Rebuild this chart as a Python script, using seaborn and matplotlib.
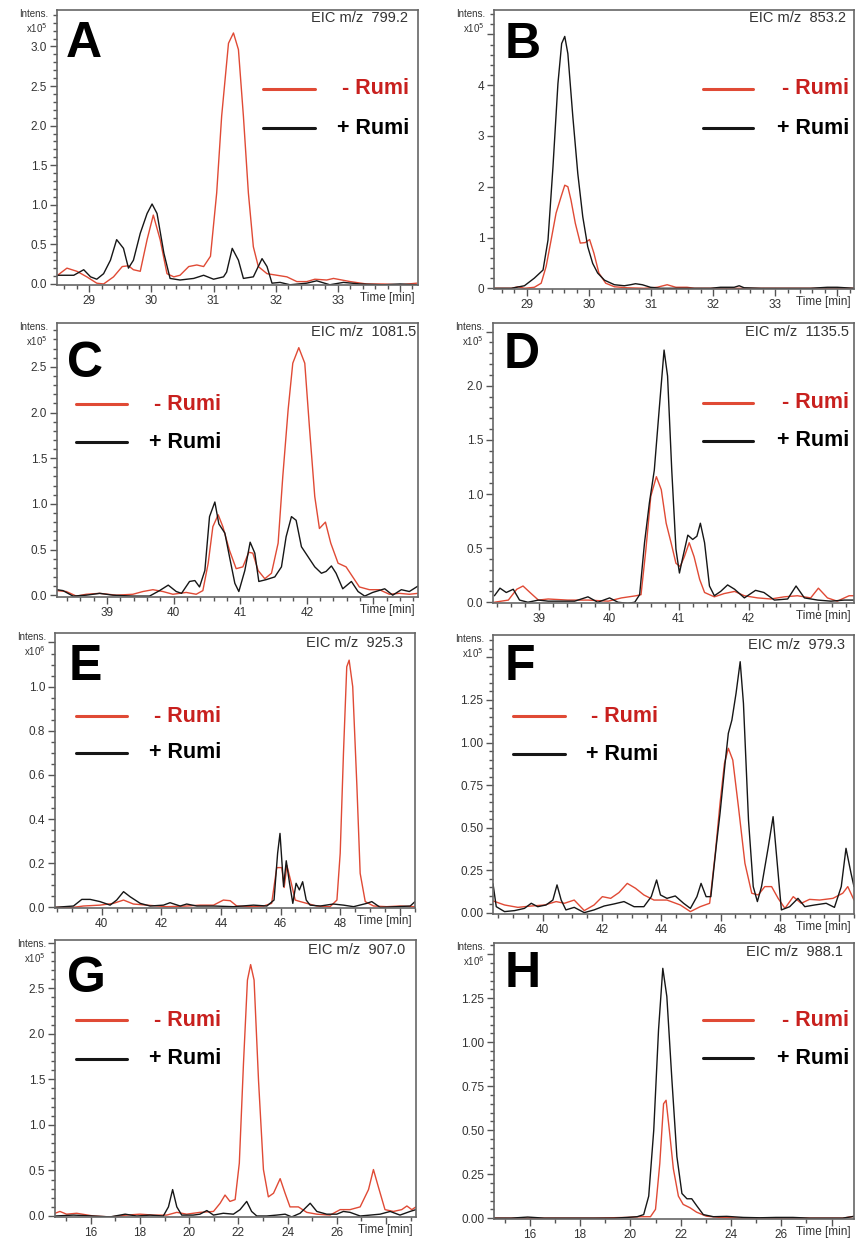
import matplotlib
matplotlib.use("Agg")
import matplotlib.pyplot as plt
from matplotlib.lines import Line2D
from matplotlib.ticker import MultipleLocator, FuncFormatter
import seaborn as sns
import pandas as pd

# ---- A : EIC m/z 799.2 (x10^5) ----
a_red_t = [28.49, 28.64, 28.80, 28.96, 29.12, 29.23, 29.39, 29.53, 29.63, 29.71, 29.82, 29.93, 30.03,
           30.14, 30.25, 30.36, 30.46, 30.60, 30.73, 30.84, 30.95, 31.05, 31.13, 31.24, 31.32, 31.40,
           31.48, 31.56, 31.64, 31.72, 31.86, 32.02, 32.18, 32.34, 32.50, 32.63, 32.82, 32.93, 33.20,
           33.46, 33.73, 34.00, 34.27]
a_red_i = [0.11, 0.20, 0.16, 0.09, 0.01, 0.00, 0.09, 0.22, 0.23, 0.18, 0.16, 0.56, 0.87,
           0.56, 0.13, 0.09, 0.11, 0.22, 0.24, 0.22, 0.35, 1.15, 2.12, 3.04, 3.17, 2.96,
           2.12, 1.15, 0.47, 0.22, 0.13, 0.11, 0.09, 0.03, 0.03, 0.06, 0.05, 0.07, 0.03,
           0.00, 0.00, -0.01, 0.01]
a_blk_t = [28.49, 28.75, 28.91, 29.02, 29.12, 29.23, 29.34, 29.44, 29.55, 29.63, 29.71, 29.82, 29.93,
           30.01, 30.09, 30.20, 30.30, 30.46, 30.68, 30.84, 31.00, 31.16, 31.21, 31.30, 31.40, 31.48,
           31.64, 31.78, 31.86, 31.94, 32.07, 32.23, 32.50, 32.66, 32.87, 33.09, 33.36, 33.73, 34.00,
           34.27]
a_blk_i = [0.11, 0.11, 0.18, 0.09, 0.06, 0.13, 0.30, 0.56, 0.45, 0.20, 0.30, 0.64, 0.89,
           1.01, 0.89, 0.39, 0.07, 0.05, 0.07, 0.11, 0.06, 0.09, 0.15, 0.45, 0.30, 0.07,
           0.09, 0.32, 0.22, 0.01, 0.02, -0.01, 0.01, 0.04, -0.01, 0.02, 0.00, -0.01, 0.00,
           -0.01]

# ---- B : EIC m/z 853.2 (x10^5) ----
b_red_t = [28.47, 28.75, 28.86, 28.96, 29.12, 29.23, 29.31, 29.39, 29.47, 29.55, 29.61, 29.66, 29.71,
           29.78, 29.86, 29.94, 30.01, 30.08, 30.16, 30.27, 30.41, 30.62, 30.89, 31.10, 31.26, 31.40,
           31.58, 31.70, 31.96, 32.23, 32.77, 33.30, 33.84, 34.27]
b_red_i = [0.00, 0.00, 0.03, 0.00, 0.02, 0.10, 0.43, 0.95, 1.48, 1.80, 2.03, 2.00, 1.74,
           1.28, 0.89, 0.90, 0.96, 0.69, 0.30, 0.10, 0.03, 0.01, 0.00, 0.02, 0.07, 0.02,
           0.02, 0.00, 0.00, 0.00, 0.00, 0.00, 0.00, 0.00]
b_blk_t = [28.47, 28.75, 28.96, 29.12, 29.26, 29.34, 29.42, 29.50, 29.56, 29.61, 29.66, 29.74, 29.82,
           29.90, 29.98, 30.06, 30.14, 30.25, 30.41, 30.57, 30.67, 30.75, 30.86, 30.99, 31.15, 31.42,
           31.70, 31.96, 32.12, 32.34, 32.42, 32.50, 32.77, 33.04, 33.30, 33.57, 33.84, 34.00, 34.27]
b_blk_i = [0.00, 0.00, 0.05, 0.20, 0.36, 0.95, 2.39, 4.03, 4.82, 4.96, 4.62, 3.38, 2.26,
           1.41, 0.82, 0.49, 0.30, 0.16, 0.07, 0.05, 0.07, 0.09, 0.07, 0.02, 0.00, 0.00,
           0.00, 0.00, 0.02, 0.02, 0.05, 0.01, 0.00, 0.00, 0.00, 0.00, 0.02, 0.02, 0.00]

# ---- C : EIC m/z 1081.5 (x10^5) ----
c_red_t = [38.25, 38.39, 38.54, 38.69, 38.89, 39.14, 39.39, 39.54, 39.69, 39.84, 39.99, 40.19, 40.34,
           40.44, 40.52, 40.59, 40.67, 40.74, 40.84, 40.94, 41.04, 41.13, 41.19, 41.27, 41.37, 41.47,
           41.57, 41.64, 41.72, 41.79, 41.88, 41.97, 42.04, 42.12, 42.19, 42.28, 42.36, 42.47, 42.59,
           42.69, 42.79, 42.94, 43.09, 43.24, 43.39, 43.54, 43.67]
c_red_i = [0.05, 0.04, -0.01, 0.01, 0.02, 0.00, 0.01, 0.04, 0.06, 0.04, 0.01, 0.03, 0.01,
           0.05, 0.35, 0.75, 0.88, 0.75, 0.49, 0.29, 0.31, 0.47, 0.46, 0.27, 0.18, 0.24,
           0.57, 1.30, 2.03, 2.54, 2.71, 2.54, 1.84, 1.08, 0.73, 0.80, 0.57, 0.35, 0.31,
           0.20, 0.09, 0.06, 0.06, 0.01, 0.02, 0.01, 0.02]
c_blk_t = [38.25, 38.34, 38.49, 38.69, 38.89, 39.09, 39.39, 39.64, 39.79, 39.92, 40.04, 40.12, 40.24,
           40.32, 40.39, 40.47, 40.54, 40.62, 40.68, 40.77, 40.84, 40.92, 40.98, 41.07, 41.15, 41.22,
           41.28, 41.39, 41.52, 41.62, 41.69, 41.77, 41.84, 41.92, 42.02, 42.12, 42.22, 42.29, 42.37,
           42.44, 42.54, 42.67, 42.77, 42.87, 42.99, 43.17, 43.29, 43.42, 43.54, 43.67]
c_blk_i = [0.06, 0.05, -0.01, 0.00, 0.02, 0.00, -0.01, -0.01, 0.05, 0.11, 0.04, 0.02, 0.15,
           0.16, 0.09, 0.27, 0.86, 1.02, 0.78, 0.68, 0.42, 0.13, 0.04, 0.27, 0.58, 0.46,
           0.15, 0.17, 0.20, 0.31, 0.64, 0.86, 0.82, 0.53, 0.42, 0.31, 0.24, 0.26, 0.32,
           0.24, 0.07, 0.15, 0.04, -0.01, 0.03, 0.07, 0.00, 0.06, 0.04, 0.10]

# ---- D : EIC m/z 1135.5 (x10^5) ----
d_red_t = [38.36, 38.56, 38.68, 38.77, 38.87, 38.99, 39.13, 39.41, 39.70, 39.99, 40.18, 40.39, 40.46,
           40.53, 40.60, 40.68, 40.75, 40.82, 40.89, 40.96, 41.02, 41.08, 41.15, 41.22, 41.30, 41.37,
           41.51, 41.65, 41.80, 41.94, 42.13, 42.32, 42.51, 42.70, 42.89, 43.00, 43.13, 43.27, 43.44,
           43.53]
d_red_i = [0.00, 0.02, 0.12, 0.15, 0.09, 0.02, 0.03, 0.02, 0.02, 0.01, 0.04, 0.06, 0.07,
           0.49, 0.98, 1.16, 1.04, 0.73, 0.55, 0.36, 0.33, 0.42, 0.55, 0.42, 0.21, 0.09,
           0.05, 0.08, 0.10, 0.06, 0.04, 0.03, 0.05, 0.06, 0.04, 0.13, 0.04, 0.01, 0.06,
           0.06]
d_blk_t = [38.36, 38.44, 38.53, 38.63, 38.72, 38.84, 38.99, 39.13, 39.32, 39.51, 39.70, 39.84, 40.01,
           40.13, 40.27, 40.37, 40.44, 40.51, 40.58, 40.65, 40.72, 40.79, 40.84, 40.90, 40.96, 41.01,
           41.06, 41.13, 41.20, 41.26, 41.31, 41.37, 41.44, 41.51, 41.60, 41.70, 41.80, 41.94, 42.10,
           42.22, 42.37, 42.56, 42.68, 42.80, 42.99, 43.18, 43.37, 43.53]
d_blk_i = [0.06, 0.13, 0.09, 0.12, 0.02, 0.00, 0.02, 0.01, 0.01, 0.01, 0.05, 0.00, 0.04,
           0.00, -0.01, 0.00, 0.07, 0.55, 0.92, 1.22, 1.78, 2.33, 2.09, 1.22, 0.49, 0.27,
           0.42, 0.62, 0.58, 0.61, 0.73, 0.55, 0.15, 0.06, 0.10, 0.16, 0.12, 0.04, 0.11,
           0.09, 0.02, 0.03, 0.15, 0.04, 0.02, 0.01, 0.02, 0.02]

# ---- E : EIC m/z 925.3 (x10^6) ----
e_red_t = [38.43, 39.05, 39.38, 39.94, 40.39, 40.73, 41.06, 41.51, 42.18, 42.85, 43.30, 43.75, 44.08,
           44.31, 44.53, 44.98, 45.43, 45.70, 45.87, 46.04, 46.12, 46.21, 46.34, 46.49, 46.66, 46.88,
           47.21, 47.66, 47.89, 48.00, 48.11, 48.22, 48.30, 48.42, 48.56, 48.67, 48.84, 49.12, 49.56,
           50.01, 50.51]
e_red_i = [0.000, 0.000, 0.006, 0.010, 0.018, 0.033, 0.015, 0.010, 0.003, 0.006, 0.010, 0.010, 0.033,
           0.030, 0.006, 0.003, 0.006, 0.018, 0.180, 0.180, 0.090, 0.190, 0.120, 0.033, 0.026, 0.018,
           0.006, 0.003, 0.033, 0.245, 0.700, 1.090, 1.120, 1.000, 0.550, 0.154, 0.026, 0.006, 0.003,
           0.006, 0.003]
e_blk_t = [38.43, 39.05, 39.33, 39.61, 39.94, 40.28, 40.50, 40.73, 40.95, 41.29, 41.62, 42.07, 42.29,
           42.63, 42.85, 43.19, 43.75, 44.42, 45.09, 45.54, 45.78, 45.90, 45.98, 46.10, 46.19, 46.30,
           46.41, 46.52, 46.63, 46.74, 46.86, 46.99, 47.33, 47.77, 48.11, 48.45, 48.89, 49.06, 49.34,
           49.90, 50.35, 50.51]
e_blk_i = [0.000, 0.006, 0.036, 0.036, 0.026, 0.010, 0.033, 0.071, 0.048, 0.018, 0.006, 0.010, 0.021,
           0.006, 0.015, 0.006, 0.006, 0.003, 0.010, 0.006, 0.033, 0.245, 0.335, 0.094, 0.211, 0.109,
           0.018, 0.109, 0.079, 0.116, 0.033, 0.010, 0.006, 0.015, 0.010, 0.003, 0.018, 0.026, 0.000,
           0.003, 0.006, 0.026]

# ---- F : EIC m/z 979.3 (x10^5) ----
f_red_t = [38.32, 38.71, 39.16, 39.61, 40.06, 40.45, 40.73, 41.06, 41.40, 41.73, 42.01, 42.29, 42.57,
           42.85, 43.13, 43.41, 43.75, 44.19, 44.64, 44.98, 45.31, 45.63, 45.82, 45.98, 46.13, 46.26,
           46.41, 46.60, 46.82, 47.05, 47.27, 47.49, 47.72, 47.94, 48.17, 48.45, 48.72, 49.00, 49.34,
           49.79, 50.12, 50.29, 50.50]
f_red_i = [0.069, 0.045, 0.031, 0.039, 0.045, 0.065, 0.055, 0.074, 0.012, 0.045, 0.094, 0.084, 0.118,
           0.172, 0.143, 0.104, 0.074, 0.074, 0.045, 0.006, 0.035, 0.055, 0.349, 0.643, 0.878, 0.966,
           0.897, 0.623, 0.290, 0.114, 0.104, 0.153, 0.153, 0.084, 0.025, 0.094, 0.055, 0.078, 0.074,
           0.084, 0.114, 0.153, 0.074]
f_blk_t = [38.32, 38.43, 38.71, 39.05, 39.38, 39.61, 39.83, 40.11, 40.34, 40.48, 40.62, 40.78, 41.06,
           41.40, 41.73, 42.07, 42.40, 42.74, 43.08, 43.41, 43.66, 43.84, 43.97, 44.19, 44.47, 44.75,
           44.98, 45.20, 45.34, 45.51, 45.67, 45.85, 45.98, 46.15, 46.26, 46.38, 46.52, 46.66, 46.77,
           46.94, 47.10, 47.24, 47.38, 47.61, 47.77, 47.94, 48.05, 48.33, 48.61, 48.84, 49.17, 49.56,
           49.84, 50.07, 50.23, 50.40, 50.50]
f_blk_i = [0.170, 0.035, 0.006, 0.012, 0.025, 0.055, 0.035, 0.045, 0.074, 0.163, 0.074, 0.016, 0.031,
           0.000, 0.016, 0.039, 0.051, 0.065, 0.035, 0.035, 0.094, 0.192, 0.104, 0.084, 0.098, 0.055,
           0.025, 0.094, 0.172, 0.094, 0.094, 0.388, 0.584, 0.878, 1.054, 1.132, 1.289, 1.475, 1.230,
           0.545, 0.153, 0.065, 0.153, 0.388, 0.564, 0.231, 0.016, 0.035, 0.084, 0.035, 0.045, 0.055,
           0.031, 0.153, 0.378, 0.231, 0.153]

# ---- G : EIC m/z 907.0 (x10^5) ----
g_red_t = [14.55, 14.75, 15.02, 15.43, 16.11, 16.79, 17.46, 18.00, 18.55, 19.09, 19.50, 19.90, 20.44,
           20.99, 21.26, 21.46, 21.66, 21.87, 22.04, 22.21, 22.37, 22.50, 22.64, 22.82, 23.02, 23.22,
           23.43, 23.70, 23.90, 24.10, 24.44, 24.78, 25.19, 25.73, 26.14, 26.54, 26.95, 27.29, 27.49,
           27.69, 27.96, 28.30, 28.64, 28.85, 29.05, 29.22]
g_red_i = [0.03, 0.05, 0.02, 0.03, 0.00, -0.01, 0.01, 0.02, 0.01, 0.01, 0.04, 0.02, 0.04,
           0.05, 0.14, 0.23, 0.16, 0.18, 0.58, 1.68, 2.59, 2.76, 2.59, 1.49, 0.51, 0.21,
           0.25, 0.41, 0.25, 0.10, 0.10, 0.04, 0.02, 0.01, 0.07, 0.07, 0.10, 0.29, 0.51,
           0.32, 0.07, 0.05, 0.07, 0.11, 0.07, 0.10]
g_blk_t = [14.55, 15.30, 16.11, 16.79, 17.40, 17.87, 18.41, 18.95, 19.16, 19.33, 19.50, 19.70, 20.17,
           20.44, 20.72, 20.99, 21.39, 21.80, 22.07, 22.34, 22.54, 22.75, 23.15, 23.56, 23.90, 24.17,
           24.51, 24.92, 25.19, 25.59, 26.00, 26.27, 26.54, 26.95, 27.36, 27.76, 28.17, 28.57, 28.98,
           29.22]
g_blk_i = [0.00, 0.01, 0.00, -0.01, 0.02, 0.00, 0.01, 0.00, 0.10, 0.29, 0.10, 0.01, 0.01,
           0.02, 0.06, 0.01, 0.03, 0.02, 0.07, 0.16, 0.05, 0.00, 0.00, 0.01, 0.02, -0.01,
           0.03, 0.14, 0.05, 0.02, 0.02, 0.05, 0.04, 0.00, 0.01, 0.02, 0.05, 0.01, 0.05,
           0.07]

# ---- H : EIC m/z 988.1 (x10^6) ----
h_red_t = [14.58, 15.92, 17.24, 18.56, 19.87, 20.40, 20.80, 21.00, 21.17, 21.32, 21.42, 21.55, 21.71,
           21.91, 22.10, 22.37, 22.63, 23.02, 23.55, 24.49, 25.80, 27.12, 28.44, 28.89]
h_red_i = [0.000, 0.000, 0.000, 0.000, 0.004, 0.008, 0.008, 0.050, 0.310, 0.650, 0.670, 0.500, 0.280,
           0.125, 0.078, 0.059, 0.034, 0.011, 0.004, 0.000, 0.000, 0.000, 0.000, 0.010]
h_blk_t = [14.58, 15.26, 15.92, 16.58, 17.50, 18.56, 19.35, 19.87, 20.27, 20.53, 20.73, 20.93, 21.12,
           21.29, 21.45, 21.65, 21.85, 22.05, 22.25, 22.44, 22.64, 22.90, 23.30, 23.83, 24.49, 25.14,
           25.80, 26.46, 27.12, 27.78, 28.44, 28.89]
h_blk_i = [0.000, 0.000, 0.006, 0.000, 0.000, 0.000, 0.000, 0.004, 0.008, 0.020, 0.125, 0.500, 1.070,
           1.420, 1.260, 0.790, 0.350, 0.140, 0.110, 0.110, 0.070, 0.020, 0.008, 0.010, 0.004, 0.002,
           0.004, 0.004, 0.000, 0.000, 0.000, 0.010]

traces = {
    'A': (a_red_t, a_red_i, a_blk_t, a_blk_i),
    'B': (b_red_t, b_red_i, b_blk_t, b_blk_i),
    'C': (c_red_t, c_red_i, c_blk_t, c_blk_i),
    'D': (d_red_t, d_red_i, d_blk_t, d_blk_i),
    'E': (e_red_t, e_red_i, e_blk_t, e_blk_i),
    'F': (f_red_t, f_red_i, f_blk_t, f_blk_i),
    'G': (g_red_t, g_red_i, g_blk_t, g_blk_i),
    'H': (h_red_t, h_red_i, h_blk_t, h_blk_i),
}

W, H = 856, 1241
RED = '#e04a35'
RED_TXT = '#c8201e'
BLK = '#161616'

# layout in pixels: box=(left, top, right, bottom); legend=(line x0, line x1, text right, y red, y black)
# ytop = highest labelled y tick (the software leaves the top ones blank)
panels = [
    dict(k='A', mz='799.2', exp=5, box=(57, 10, 418, 285), xlim=(28.48, 34.29), ylim=(-0.013, 3.46),
         xmaj=1, xmin=0.2, xhide=34, ymaj=0.5, ymin=0.1, yfmt='%.1f', ytop=3.0,
         letter=(66, 21), eic=(408, 18), leg=(263, 315, 409, 89, 128)),
    dict(k='B', mz='853.2', exp=5, box=(494, 10, 854, 289), xlim=(28.47, 34.27), ylim=(-0.014, 5.48),
         xmaj=1, xmin=0.2, xhide=34, ymaj=1, ymin=0.2, yfmt='%d', ytop=4,
         letter=(505, 22), eic=(846, 18), leg=(703, 753, 849, 89, 128)),
    dict(k='C', mz='1081.5', exp=5, box=(57, 323, 418, 597), xlim=(38.25, 43.67), ylim=(-0.02, 2.98),
         xmaj=1, xmin=0.2, xhide=43, ymaj=0.5, ymin=0.1, yfmt='%.1f', ytop=2.5,
         letter=(67, 341), eic=(416, 332), leg=(76, 127, 221, 404, 442)),
    dict(k='D', mz='1135.5', exp=5, box=(493, 323, 854, 603), xlim=(38.34, 43.51), ylim=(-0.007, 2.58),
         xmaj=1, xmin=0.2, xhide=43, ymaj=0.5, ymin=0.1, yfmt='%.1f', ytop=2.0,
         letter=(504, 332), eic=(849, 332), leg=(703, 753, 849, 403, 441)),
    dict(k='E', mz='925.3', exp=6, box=(55, 633, 415, 908), xlim=(38.43, 50.51), ylim=(-0.003, 1.243),
         xmaj=2, xmin=0.5, xhide=50, ymaj=0.2, ymin=0.05, yfmt='%.1f', ytop=1.0,
         letter=(69, 644), eic=(403, 643), leg=(76, 127, 221, 716, 753)),
    dict(k='F', mz='979.3', exp=5, box=(493, 635, 854, 914), xlim=(38.32, 50.5), ylim=(-0.008, 1.632),
         xmaj=2, xmin=0.5, xhide=50, ymaj=0.25, ymin=0.05, yfmt='%.2f', ytop=1.25,
         letter=(505, 644), eic=(845, 645), leg=(513, 565, 658, 716, 754)),
    dict(k='G', mz='907.0', exp=5, box=(55, 940, 416, 1217), xlim=(14.55, 29.22), ylim=(-0.011, 3.03),
         xmaj=2, xmin=1, xhide=28, ymaj=0.5, ymin=0.1, yfmt='%.1f', ytop=2.5,
         letter=(67, 956), eic=(405, 950), leg=(76, 127, 221, 1020, 1059)),
    dict(k='H', mz='988.1', exp=6, box=(494, 943, 854, 1219), xlim=(14.58, 28.89), ylim=(-0.005, 1.564),
         xmaj=2, xmin=1, xhide=28, ymaj=0.25, ymin=0.05, yfmt='%.2f', ytop=1.25,
         letter=(505, 951), eic=(843, 952), leg=(703, 753, 849, 1020, 1058)),
]

sns.set_style('white')
plt.rcParams['font.family'] = ['Liberation Sans', 'DejaVu Sans']

fig = plt.figure(figsize=(W / 100, H / 100), dpi=100)


def fx(x):
    return x / W


def fy(y):
    return 1 - y / H


for p in panels:
    l, t, r, b = p['box']
    ax = fig.add_axes([fx(l), fy(b), (r - l) / W, (b - t) / H])
    red_t, red_i, blk_t, blk_i = traces[p['k']]
    df = pd.DataFrame({
        'time': red_t + blk_t,
        'intens': red_i + blk_i,
        'sample': ['- Rumi'] * len(red_t) + ['+ Rumi'] * len(blk_t),
    })
    sns.lineplot(data=df, x='time', y='intens', hue='sample', hue_order=['- Rumi', '+ Rumi'],
                 palette={'- Rumi': RED, '+ Rumi': BLK}, estimator=None, sort=False,
                 lw=1.0, legend=False, ax=ax)
    ax.set_xlim(*p['xlim'])
    ax.set_ylim(*p['ylim'])
    ax.set_xlabel('')
    ax.set_ylabel('')

    hide = p['xhide']
    ax.xaxis.set_major_locator(MultipleLocator(p['xmaj']))
    ax.xaxis.set_minor_locator(MultipleLocator(p['xmin']))
    ax.xaxis.set_major_formatter(FuncFormatter(
        lambda v, pos, h=hide: '' if abs(v - h) < 1e-6 else '%d' % round(v)))
    ax.yaxis.set_major_locator(MultipleLocator(p['ymaj']))
    ax.yaxis.set_minor_locator(MultipleLocator(p['ymin']))
    ax.yaxis.set_major_formatter(FuncFormatter(
        lambda v, pos, top=p['ytop'], f=p['yfmt']: '' if v > top + 1e-6 else f % v))

    ax.tick_params(which='both', bottom=True, left=True, top=False, right=False, direction='out',
                   color='#555555', width=1.0)
    ax.tick_params(which='major', length=5, labelsize=8.5, labelcolor='#333333', pad=2)
    ax.tick_params(which='minor', length=3)
    for s in ax.spines.values():
        s.set_color('#666666')
        s.set_linewidth(1.2)

    # axis annotations in the Bruker style
    fig.text(fx(l - 9), fy(t + 4), 'Intens.', ha='right', va='center', fontsize=7, color='#333333')
    fig.text(fx(l - 9), fy(t + 18), r'x10$^{%d}$' % p['exp'], ha='right', va='center', fontsize=7,
             color='#333333')
    fig.text(fx(r - 3), fy(b + 7), 'Time [min]', ha='right', va='top', fontsize=8.5, color='#333333')
    fig.text(fx(p['eic'][0]), fy(p['eic'][1]), 'EIC m/z  ' + p['mz'], ha='right', va='center',
             fontsize=10.5, color='#333333')
    fig.text(fx(p['letter'][0]), fy(p['letter'][1]), p['k'], ha='left', va='top', fontsize=36,
             fontweight='bold', color='black')

    x0, x1, xt, yr, yb = p['leg']
    fig.add_artist(Line2D([fx(x0), fx(x1)], [fy(yr), fy(yr)], transform=fig.transFigure,
                          color=RED, lw=2.2))
    fig.add_artist(Line2D([fx(x0), fx(x1)], [fy(yb), fy(yb)], transform=fig.transFigure,
                          color=BLK, lw=2.2))
    fig.text(fx(xt), fy(yr), '- Rumi', ha='right', va='center', fontsize=15.5, fontweight='bold',
             color=RED_TXT)
    fig.text(fx(xt), fy(yb), '+ Rumi', ha='right', va='center', fontsize=15.5, fontweight='bold',
             color='black')

fig.savefig('out.png', dpi=100, facecolor='white')
